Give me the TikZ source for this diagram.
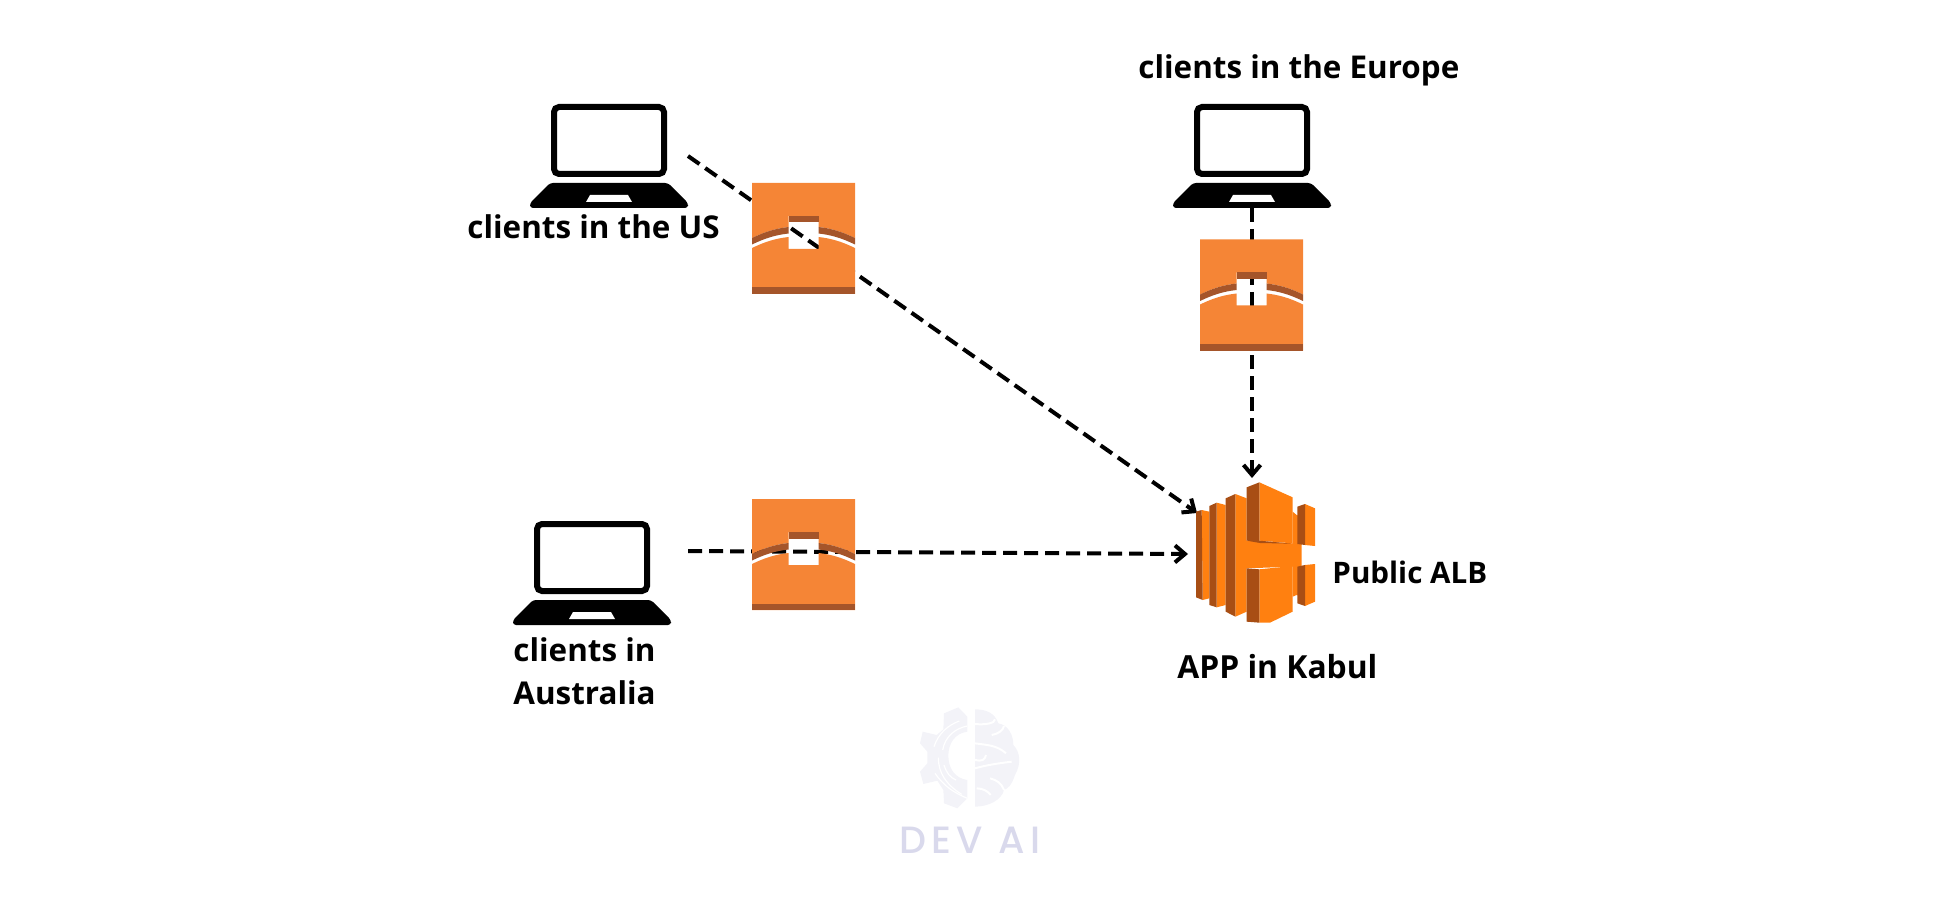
\documentclass[tikz,border=0pt]{standalone}
\usepackage{fontspec}
\setmainfont{Open Sans}
\newfontfamily\markfont[LetterSpace=14]{Poppins Medium}
\usepackage{xcolor}
\usetikzlibrary{arrows.meta,positioning}

\definecolor{cdnorange}{HTML}{F58536}
\definecolor{cdnbrown}{HTML}{A5552A}
\definecolor{alborange}{HTML}{FF8010}
\definecolor{albdark}{HTML}{A84E14}
\definecolor{markgray}{HTML}{F3F3F8}
\definecolor{markblue}{HTML}{D9D9EC}

\begin{document}
\begin{tikzpicture}[
    x=0.5pt,
    y=-0.5pt,
    label/.style={
      anchor=base west,
      inner sep=0pt,
      font=\bfseries\fontsize{15.7}{18}\selectfont
    },
    line/.style={draw, -{Straight Barb[length=5pt,width=8.5pt]}, line width=2pt, dash pattern=on 7pt off 3.5pt},
    laptop/.pic={
      \draw [line width=3pt, rounded corners=2.5pt] (-55,3) rectangle (55,70);
      \fill [rounded corners=1.5pt] (-59,79) -- (59,79) -- (79,99) -- (79,104) -- (-79,104) -- (-79,99) -- cycle;
      \fill [white] (-19,91) -- (19,91) -- (23,98) -- (-23,98) -- cycle;
    },
    edgeicon/.pic={
      \fill [cdnorange] (-51.5,-55.5) -- (51.5,-55.5) -- (51.5,-0.5)
        .. controls (38,-7) and (28,-10) .. (15,-11.5) -- (15,-22.5) -- (-15,-22.5) -- (-15,-11.5)
        .. controls (-28,-10) and (-38,-7) .. (-51.5,-0.5) -- cycle;
      \fill [cdnorange] (-51.5,9.5) .. controls (-38,3) and (-28,0) .. (-15,-1.5) -- (-15,10.5) -- (15,10.5) -- (15,-1.5)
        .. controls (28,0) and (38,3) .. (51.5,9.5) -- (51.5,55.5) -- (-51.5,55.5) -- cycle;
      \fill [cdnbrown] (-15,-22.5) rectangle (15,-16);
      \fill [cdnbrown] (-51.5,49) rectangle (51.5,55.5);
      \fill [cdnbrown] (-51.5,-0.5) .. controls (-38,-7) and (-28,-10) .. (-15,-11.5) -- (-15,-5)
        .. controls (-28,-3.5) and (-38,-0.5) .. (-51.5,6) -- cycle;
      \fill [cdnbrown] (51.5,-0.5) .. controls (38,-7) and (28,-10) .. (15,-11.5) -- (15,-5)
        .. controls (28,-3.5) and (38,-0.5) .. (51.5,6) -- cycle;
    }
]

    % Edges first, the icons cover them
    \coordinate (usOut) at (688,156);
    \coordinate (usIn) at (1197,513);
    \coordinate (euOut) at (1252,208);
    \coordinate (euIn) at (1252,478);
    \coordinate (auOut) at (688,551);
    \coordinate (auIn) at (1188,554);
    \path [line] (usOut) -- (usIn);
    \path [line] (euOut) -- (euIn);
    \path [line] (auOut) -- (auIn);

    % Clients
    \pic (lapUS) at (609,104) {laptop};
    \pic (lapEU) at (1252,104) {laptop};
    \pic (lapAU) at (592,521) {laptop};
    \pic (edgeUS) at (803.5,238.5) {edgeicon};
    \pic (edgeEU) at (1251.5,295) {edgeicon};
    \pic (edgeAU) at (803.5,554.5) {edgeicon};

    % Load balancer
    \begin{scope}[shift={(1190,470)}, scale=1/3]
      \fill [alborange] (35,120) -- (58,125) -- (58,385) -- (38,390) -- cycle;
      \fill [alborange] (80,98) -- (107,105) -- (107,405) -- (80,412) -- cycle;
      \fill [alborange] (136,72) -- (170,85) -- (170,212) -- (308,220) -- (308,125) -- (320,135) -- (335,140) -- (335,380) -- (320,375) -- (308,380) -- (308,290) -- (170,295) -- (170,425) -- (136,440) -- cycle;
      \fill [alborange] (208,37) -- (308,82) -- (308,220) -- (208,212) -- cycle;
      \fill [alborange] (208,298) -- (308,288) -- (308,425) -- (240,458) -- (208,458) -- cycle;
      \fill [alborange] (345,102) -- (375,115) -- (375,228) -- (345,225) -- cycle;
      \fill [alborange] (345,285) -- (375,282) -- (375,395) -- (345,408) -- cycle;
      \fill [albdark] (18,125) -- (35,120) -- (38,390) -- (18,382) -- cycle;
      \fill [albdark] (58,108) -- (80,98) -- (80,412) -- (58,405) -- cycle;
      \fill [albdark] (107,85) -- (136,72) -- (136,440) -- (107,425) -- cycle;
      \fill [albdark] (170,52) -- (208,37) -- (208,214) -- (170,212) -- cycle;
      \fill [albdark] (170,212) -- (208,212) -- (305,221) -- (210,219) -- cycle;
      \fill [albdark] (170,295) -- (208,298) -- (208,458) -- (170,455) -- cycle;
      \fill [albdark] (322,110) -- (345,102) -- (345,225) -- (322,222) -- cycle;
      \fill [albdark] (322,290) -- (345,285) -- (345,408) -- (322,400) -- cycle;
    \end{scope}

    % Labels
    \node [label] (usText) at (467,239) {clients in the US};
    \node [label] (euText) at (1138,79) {clients in the Europe};
    \node [label] (auText) at (513,661) {clients in};
    \node [label] (auText2) at (513,704) {Australia};
    \node [label, font=\bfseries\fontsize{14.8}{17}\selectfont] (albText) at (1332,583) {Public ALB};
    \node [label, font=\bfseries\fontsize{15.9}{18}\selectfont] (appText) at (1177,678) {APP in Kabul};

    % Watermark
    \begin{scope}[shift={(880,690)}, scale=1/3]
      \fill [markgray] (262,80) -- (235,52) -- (192,70) -- (190,118) -- (170,135) -- (128,125) -- (120,160) -- (142,185) -- (142,220) -- (120,245) -- (130,282) -- (172,272) -- (190,300) -- (192,340) -- (232,355) -- (262,325) -- (262,270) .. controls (225,265) and (205,235) .. (205,197) .. controls (205,160) and (225,130) .. (262,125) -- cycle;
      \draw [white, line width=0.6pt] (238,93) .. controls (205,105) and (175,130) .. (162,170);
      \draw [white, line width=0.6pt] (262,108) .. controls (225,115) and (195,140) .. (188,180);
      \draw [white, line width=0.6pt] (175,203) .. controls (175,250) and (200,285) .. (245,313);
      \draw [white, line width=0.6pt] (165,250) .. controls (190,285) and (215,305) .. (262,325);
      \draw [white, line width=0.6pt] (192,225) .. controls (200,250) and (210,262) .. (228,270);
      \fill [markgray] (285,58) .. controls (320,58) and (345,70) .. (355,100) .. controls (385,105) and (400,135) .. (400,165) .. controls (420,185) and (425,220) .. (405,255) .. controls (395,285) and (385,295) .. (372,300) .. controls (365,330) and (325,350) .. (285,350) -- cycle;
      \draw [white, line width=1pt] (285,102) .. controls (315,105) and (345,100) .. (345,88);
      \draw [white, line width=1pt] (335,135) .. controls (355,132) and (370,120) .. (372,108);
      \draw [white, line width=1pt] (285,160) .. controls (320,165) and (350,165) .. (378,190);
      \draw [white, line width=1pt] (285,235) .. controls (320,225) and (355,220) .. (395,215);
      \draw [white, line width=1pt] (285,210) .. controls (305,215) and (315,210) .. (318,195);
      \draw [white, line width=1pt] (290,295) .. controls (310,295) and (325,305) .. (332,315);
      \draw [white, line width=1pt] (330,265) .. controls (350,270) and (365,280) .. (372,300);
    \end{scope}
    \node [anchor=base west, inner sep=0pt, text=markblue, font=\markfont\fontsize{19}{21}\selectfont] (markText) at (899,853) {DEV AI};

    \path [use as bounding box] (0,0) rectangle (1946,903);

\end{tikzpicture}
\end{document}
